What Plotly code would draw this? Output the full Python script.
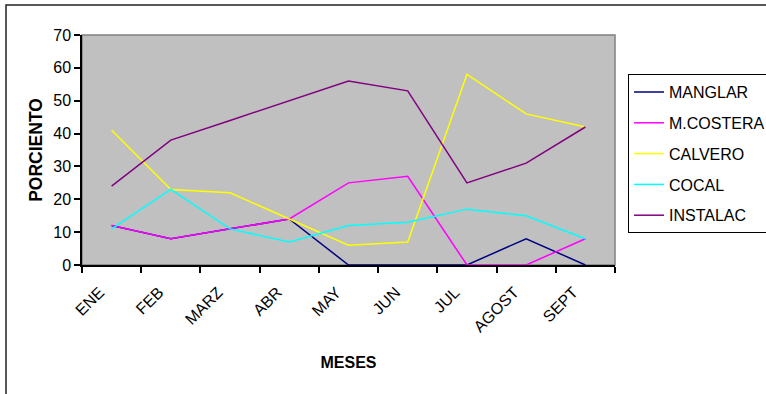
import plotly.graph_objects as go

# Monthly percentages by land-cover class
meses = ["ENE", "FEB", "MARZ", "ABR", "MAY", "JUN", "JUL", "AGOST", "SEPT"]
manglar = [12, 8, 11, 14, 0, 0, 0, 8, 0]
m_costera = [12, 8, 11, 14, 25, 27, 0, 0, 8]
calvero = [41, 23, 22, 14, 6, 7, 58, 46, 42]
cocal = [11, 23, 11, 7, 12, 13, 17, 15, 8]
instalac = [24, 38, 44, 50, 56, 53, 25, 31, 42]

series = [
    ("MANGLAR", manglar, "#000080"),
    ("M.COSTERA", m_costera, "#FF00FF"),
    ("CALVERO", calvero, "#FFFF00"),
    ("COCAL", cocal, "#00FFFF"),
    ("INSTALAC", instalac, "#800080"),
]

FONT = "Liberation Sans, Arial, sans-serif"

fig = go.Figure()
for name, vals, color in series:
    fig.add_trace(go.Scatter(
        x=meses, y=vals, name=name, mode="lines", legendgroup=name,
        line=dict(color=color, width=1.5),
    ))

fig.update_layout(
    width=766, height=394,
    margin=dict(l=82, r=151, t=35, b=129, autoexpand=False),
    paper_bgcolor="white",
    plot_bgcolor="#C0C0C0",
    font=dict(family=FONT, size=16, color="black"),
    showlegend=True,
    legend=dict(
        x=1.0244, y=0.83, xanchor="left", yanchor="top",
        bordercolor="black", borderwidth=1, bgcolor="white",
        font=dict(family=FONT, size=16, color="black"),
        tracegroupgap=7,
    ),
    shapes=[
        # plot-area frame
        dict(type="rect", xref="paper", yref="paper", x0=0, x1=1, y0=0, y1=1,
             line=dict(color="#808080", width=1.5), layer="below"),
        # chart-area border
        dict(type="rect", xref="paper", yref="paper", x0=-0.1426, x1=1.4,
             y0=-0.8, y1=1.1304, line=dict(color="#222222", width=1.5)),
    ],
)

fig.update_xaxes(
    type="category", range=[-0.5, len(meses) - 0.5],
    tickangle=-45, tickson="boundaries",
    ticks="outside", ticklen=6, tickcolor="black", tickwidth=1.5,
    ticklabelstandoff=10, ticklabelshift=-12,
    showline=True, linecolor="black", linewidth=1.5, showgrid=False,
    tickfont=dict(family=FONT, size=16),
    title=dict(text="<b>MESES</b>", font=dict(family=FONT, size=16), standoff=22),
)
fig.update_yaxes(
    range=[0, 70], dtick=10, ticks="outside", ticklen=6,
    tickcolor="black", tickwidth=1.5,
    showline=True, linecolor="black", linewidth=1.5, showgrid=False, zeroline=False,
    tickfont=dict(family=FONT, size=16),
    title=dict(text="<b>PORCIENTO</b>", font=dict(family=FONT, size=17.5), standoff=6),
)

fig.write_html("out.html")
